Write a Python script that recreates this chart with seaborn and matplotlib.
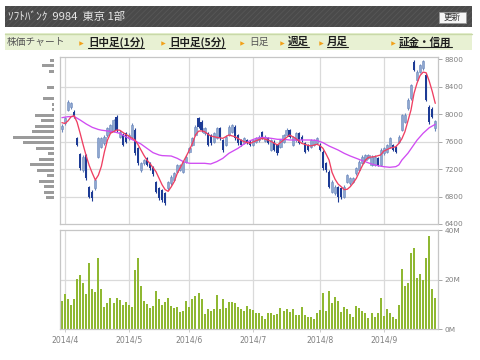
import numpy as np
import pandas as pd
import matplotlib
matplotlib.use("Agg")
import matplotlib.pyplot as plt
import seaborn as sns
from matplotlib.patches import Rectangle
from matplotlib.lines import Line2D

# ---------------- data ----------------
opens = [7780, 7865, 8060, 8100, 8035, 7645, 7420, 7185, 7405, 6945, 6870, 6920, 7380, 7525, 7575, 7695,
         7745, 7765, 7960, 7670, 7695, 7720, 7645, 7670, 7765, 7500, 7185, 7285, 7355, 7285, 7235, 7015,
         6920, 6895, 6845, 6920, 6990, 7040, 7160, 7185, 7160, 7305, 7450, 7550, 7695, 7935, 7890, 7720,
         7720, 7695, 7600, 7645, 7790, 7620, 7550, 7695, 7745, 7815, 7695, 7620, 7575, 7620, 7600, 7550,
         7600, 7620, 7745, 7610, 7645, 7475, 7600, 7550, 7525, 7600, 7695, 7765, 7550, 7620, 7720, 7670,
         7575, 7550, 7525, 7550, 7575, 7550, 7450, 7285, 7160, 6870, 6845, 6945, 6920, 6800, 7015, 6990,
         7015, 7135, 7185, 7285, 7330, 7355, 7260, 7260, 7355, 7260, 7430, 7450, 7525, 7550, 7525, 7600,
         7765, 7890, 8085, 8230, 8750, 8495, 8615, 8665, 8565, 8105, 8080, 7790]
closes = [7830, 7935, 8180, 8155, 7960, 7550, 7210, 7380, 7065, 6800, 6775, 7040, 7645, 7645, 7660, 7790,
          7840, 7915, 7765, 7745, 7550, 7600, 7695, 7840, 7430, 7285, 7285, 7330, 7260, 7210, 7130, 6870,
          6775, 6750, 6700, 7015, 7090, 7135, 7260, 7260, 7305, 7380, 7500, 7645, 7815, 7815, 7765, 7790,
          7550, 7575, 7720, 7790, 7645, 7475, 7670, 7815, 7840, 7645, 7575, 7550, 7645, 7575, 7550, 7620,
          7645, 7670, 7645, 7670, 7575, 7620, 7475, 7430, 7620, 7695, 7765, 7670, 7660, 7720, 7575, 7620,
          7450, 7475, 7620, 7620, 7645, 7475, 7210, 7185, 6945, 7015, 6945, 6800, 6800, 6945, 7110, 7065,
          7065, 7210, 7305, 7380, 7405, 7405, 7380, 7380, 7260, 7475, 7500, 7550, 7645, 7475, 7450, 7670,
          7985, 7985, 8205, 8420, 8640, 8615, 8710, 8770, 8205, 7890, 7960, 7900]
highs = [7860, 7960, 8200, 8180, 8060, 7670, 7440, 7400, 7420, 6960, 6890, 7060, 7670, 7670, 7690, 7810,
         7860, 7930, 7990, 7770, 7720, 7740, 7720, 7870, 7790, 7520, 7300, 7350, 7380, 7300, 7250, 7030,
         6940, 6910, 6860, 7030, 7110, 7160, 7280, 7280, 7320, 7400, 7520, 7670, 7840, 7960, 7910, 7810,
         7740, 7710, 7740, 7810, 7810, 7640, 7690, 7840, 7860, 7840, 7710, 7640, 7670, 7640, 7620, 7640,
         7660, 7690, 7760, 7690, 7660, 7640, 7620, 7570, 7640, 7710, 7790, 7780, 7680, 7740, 7740, 7690,
         7590, 7570, 7640, 7640, 7670, 7580, 7470, 7300, 7180, 7040, 6970, 6960, 6940, 6970, 7130, 7090,
         7080, 7230, 7330, 7400, 7420, 7420, 7400, 7400, 7370, 7500, 7520, 7570, 7670, 7570, 7540, 7690,
         8000, 8010, 8230, 8440, 8780, 8640, 8730, 8790, 8600, 8130, 8100, 7920]
lows = [7740, 7840, 8040, 8080, 7940, 7530, 7190, 7160, 7040, 6780, 6740, 6900, 7360, 7500, 7550, 7670,
        7720, 7740, 7740, 7650, 7530, 7580, 7620, 7650, 7400, 7260, 7160, 7260, 7240, 7190, 7100, 6850,
        6750, 6720, 6680, 6900, 6970, 7020, 7140, 7170, 7140, 7290, 7430, 7530, 7680, 7800, 7740, 7700,
        7530, 7550, 7580, 7630, 7620, 7450, 7530, 7680, 7720, 7620, 7550, 7530, 7560, 7560, 7530, 7530,
        7580, 7600, 7630, 7590, 7560, 7460, 7460, 7410, 7510, 7580, 7680, 7650, 7530, 7600, 7560, 7600,
        7430, 7460, 7510, 7530, 7560, 7460, 7190, 7160, 6920, 6850, 6820, 6720, 6770, 6780, 7000, 6970,
        7000, 7120, 7170, 7270, 7310, 7340, 7240, 7240, 7240, 7240, 7410, 7430, 7510, 7460, 7430, 7580,
        7750, 7870, 8060, 8210, 8620, 8480, 8600, 8640, 8190, 7860, 7940, 7760]
volumes_m = [11.2,
             14.3, 12.2, 9.7, 12.0, 20.5, 21.9, 18.6, 14.4, 26.8, 16.2, 15.1, 29.0, 16.2, 9.0, 10.5, 12.5,
             10.5, 12.5, 11.7, 9.9, 10.9,
             9.7, 9.0, 23.8, 29.0, 17.5, 11.4, 10.2, 8.6, 9.2, 15.6, 12.0, 9.9, 10.9, 12.5, 9.4, 8.6, 8.8,
             6.9, 7.2, 11.2,
             8.8, 12.0, 13.3, 14.7, 12.0, 6.0, 8.3, 7.5, 8.2, 13.9, 8.0, 12.0, 8.6, 11.0, 11.0, 10.5, 8.8,
             8.0, 7.2, 9.2, 8.0,
             7.8, 6.4, 6.4, 5.2, 4.1, 6.4, 6.5, 5.6, 6.1, 8.6, 7.3, 8.2, 6.9, 8.2, 5.7, 5.6, 8.8, 5.6, 4.9,
             4.8, 4.2, 6.5,
             7.8, 14.7, 7.2, 15.6, 10.7, 13.1, 11.2, 6.9, 8.8, 8.3, 6.1, 4.8, 9.4, 8.6, 7.2, 6.5, 4.5, 6.4,
             5.0, 6.5, 12.5,
             5.3, 8.2, 6.4, 5.0, 4.1, 9.7, 24.2, 17.5, 18.6, 31.0, 32.9, 20.8, 22.4, 19.9, 28.8, 37.8, 16.2,
             12.6]

ma_short_day = [0, 1, 2, 3, 4, 5, 6, 7, 8, 9, 10, 11, 12, 13, 14, 15, 16, 18, 19, 20, 21, 22, 23, 24, 25,
                26, 27, 28, 29, 30, 31, 32, 33, 34, 35, 36, 37, 38, 39, 40, 41, 42, 43, 44, 45, 46, 47, 48,
                49, 51, 53, 55, 57, 59, 60, 62, 64, 66, 68, 69, 71, 73, 75, 77, 79, 81, 82, 84, 85, 86, 87,
                88, 89, 90, 91, 92, 93, 94, 95, 96, 97, 98, 99, 100, 101, 103, 105, 106, 108, 110, 111, 112,
                113, 114, 115, 116, 117, 118, 119, 120, 121, 122, 123]
ma_short_val = [7874, 7862, 7900, 7960, 7975, 7880, 7720, 7550, 7390, 7250, 7140, 7040, 7110, 7240, 7450,
                7620, 7720, 7767, 7765, 7735, 7705, 7680, 7650, 7625, 7560, 7480, 7400, 7330, 7280, 7220,
                7160, 7065, 6970, 6900, 6875, 6940, 7016, 7137, 7220, 7307, 7390, 7476, 7573, 7695, 7750,
                7755, 7743, 7710, 7680, 7661, 7646, 7695, 7670, 7620, 7598, 7573, 7612, 7646, 7620, 7598,
                7549, 7622, 7695, 7646, 7573, 7545, 7535, 7560, 7540, 7501, 7420, 7331, 7150, 7050, 6980,
                6943, 6900, 6905, 6943, 7000, 7065, 7160, 7250, 7331, 7370, 7380, 7404, 7460, 7501, 7525,
                7573, 7640, 7743, 7900, 8058, 8300, 8450, 8560, 8610, 8600, 8480, 8330, 8155]
ma_long_day = [0, 2, 4, 6, 8, 10, 12, 13, 15, 17, 19, 21, 24, 26, 28, 30, 32, 33, 36, 38, 40, 42, 44, 47,
               49, 51, 53, 55, 58, 60, 62, 64, 66, 69, 71, 73, 75, 77, 80, 82, 84, 86, 88, 91, 93, 95, 97,
               99, 102, 104, 106, 108, 110, 111, 112, 114, 117, 119, 121, 123]
ma_long_val = [7947, 7961, 7965, 7913, 7855, 7806, 7775, 7765, 7753, 7743, 7719, 7670, 7610, 7565, 7501,
               7438, 7404, 7395, 7389, 7355, 7307, 7283, 7283, 7283, 7273, 7307, 7355, 7428, 7501, 7564,
               7612, 7646, 7661, 7646, 7632, 7632, 7622, 7622, 7622, 7622, 7615, 7583, 7535, 7476, 7428,
               7389, 7355, 7321, 7273, 7249, 7234, 7225, 7234, 7260, 7330, 7430, 7620, 7720, 7800, 7850]

profile_price = [8780, 8700, 8620, 8540, 8460, 8380, 8300, 8220, 8140, 8060, 7980, 7900, 7820, 7740, 7660,
                 7580, 7500, 7420, 7340, 7260, 7180, 7100, 7020, 6940, 6860, 6780]
profile_volume = [4.3, 12.7, 5.0, 0, 0, 7.0, 0, 11.0, 2.7, 2.7, 19.3, 13.7, 19.3, 22.0, 41.0, 31.7, 18.3,
                  6.0, 15.3, 24.3, 17.7, 7.0, 15.3, 10.0, 10.3, 8.3]

price_ticks = [6400, 6800, 7200, 7600, 8000, 8400, 8800]
vol_ticks = [0, 20, 40]
vol_tick_labels = ["0M", "20M", "40M"]
month_days = [1, 22, 42, 63, 85, 106]
month_labels = ["2014/4", "2014/5", "2014/6", "2014/7", "2014/8", "2014/9"]

header_title = "ｿﾌﾄﾊﾞﾝｸ  9984  東京 1部"
update_label = "更新"
menu_items = [("株価チャート", False, None), ("日中足(1分)", True, True), ("日中足(5分)", True, True),
              ("日足", True, False), ("週足", True, True), ("月足", True, True), ("証金・信用", True, True)]

# ---------------- style ----------------
sns.set_theme(style="white")
plt.rcParams["font.family"] = ["Noto Sans CJK JP", "DejaVu Sans"]
plt.rcParams["hatch.linewidth"] = 0.6

W, H = 480, 360
fig = plt.figure(figsize=(W / 100, H / 100), dpi=100)
fig.patch.set_facecolor("white")


def fx(px):
    return px / W


def fy(py):
    return 1 - py / H


GRID = "#dadada"
SPINE = "#c6c6c6"
TICKC = "#808080"
UP_FACE = "#8fa7d0"
UP_EDGE = "#6d89bd"
DOWN = "#1d3b95"
RED = "#ef3f62"
PURPLE = "#d04cf2"
VOL = "#8fb832"

# header bar
fig.add_artist(Rectangle((fx(5), fy(26.7)), fx(467), 20.7 / H, transform=fig.transFigure,
                         facecolor="#4a4a4a", edgecolor="#575757", lw=0, hatch="//////"))
fig.text(fx(7.5), fy(16.8), header_title, color="#e6e6e6", fontsize=8.1, va="center", ha="left")
fig.add_artist(Rectangle((fx(439), fy(22.5)), fx(27), 10.5 / H, transform=fig.transFigure,
                         facecolor="#f6f6f6", edgecolor="#9a9a9a", lw=0.6))
fig.text(fx(452.5), fy(17.4), update_label, color="#333333", fontsize=6.2, va="center", ha="center")

# menu band
fig.add_artist(Rectangle((fx(5), fy(50)), fx(467), 16.7 / H, transform=fig.transFigure,
                         facecolor="#e8f1d3", edgecolor="none"))
fig.add_artist(Line2D([fx(5), fx(472)], [fy(33.6), fy(33.6)], transform=fig.transFigure,
                      color="#c9d9a9", lw=1.0))
menu_x = [7, 88, 169, 249, 288, 327, 399]
arrow_x = [None, 81, 163, 242, 282, 321, 393]
menu_texts = []
for (label, has_arrow, bold), mx, ax_ in zip(menu_items, menu_x, arrow_x):
    if has_arrow:
        fig.add_artist(Line2D([fx(ax_)], [fy(42.5)], transform=fig.transFigure, marker=">",
                              markersize=3.2, color="#f2a11a", markeredgewidth=0, linestyle="none"))
    if bold:
        t = fig.text(fx(mx), fy(42.3), label, color="#1e1e1e", fontsize=7.6, fontweight="bold",
                     va="center", ha="left")
        menu_texts.append(t)
    else:
        fig.text(fx(mx), fy(42.3), label, color="#555555", fontsize=7.0, va="center", ha="left")

# ---------------- axes ----------------
L, R = 59.5, 438
axp = fig.add_axes([fx(L), fy(224), fx(R - L), (224 - 57.3) / H])
axv = fig.add_axes([fx(L), fy(329), fx(R - L), (329 - 230) / H])
axh = fig.add_axes([fx(9), fy(224), fx(45.3), (224 - 57.3) / H])

idx = np.arange(len(closes))
o = np.array(opens, float)
c = np.array(closes, float)
hi = np.array(highs, float)
lo = np.array(lows, float)
up = c >= o

# price panel
for d in month_days:
    axp.axvline(d, color=GRID, lw=0.9, zorder=0)
for p in price_ticks[1:-1]:
    axp.axhline(p, color=GRID, lw=0.9, zorder=0)

axp.vlines(idx[up], lo[up], hi[up], color=UP_EDGE, lw=0.8, zorder=2)
axp.vlines(idx[~up], lo[~up], hi[~up], color=DOWN, lw=0.8, zorder=2)
axp.bar(idx[up], np.maximum(c[up] - o[up], 8), bottom=o[up], width=0.72, color=UP_FACE,
        edgecolor=UP_EDGE, linewidth=0.4, zorder=3)
axp.bar(idx[~up], np.maximum(o[~up] - c[~up], 8), bottom=c[~up], width=0.72, color=DOWN,
        linewidth=0, zorder=3)

ma_s = pd.DataFrame({"day": ma_short_day, "value": ma_short_val})
ma_l = pd.DataFrame({"day": ma_long_day, "value": ma_long_val})
sns.lineplot(data=ma_l, x="day", y="value", ax=axp, color=PURPLE, lw=0.95, zorder=4)
sns.lineplot(data=ma_s, x="day", y="value", ax=axp, color=RED, lw=0.95, zorder=5)

xlim = (-0.8, 123.9)
axp.set_xlim(*xlim)
axp.set_ylim(6400, 8825)
axp.set_xlabel("")
axp.set_ylabel("")
axp.set_xticks(month_days)
axp.set_xticklabels([])
axp.tick_params(axis="x", length=0)
axp.yaxis.tick_right()
axp.set_yticks(price_ticks)
axp.set_yticklabels([str(p) for p in price_ticks], family="DejaVu Sans")
axp.tick_params(axis="y", length=3.2, width=0.7, color="#a8a8a8", labelsize=5.3,
                labelcolor=TICKC, pad=1.5, right=True, left=False)
for s in axp.spines.values():
    s.set_color(SPINE)
    s.set_linewidth(0.9)

# volume panel
for d in month_days:
    axv.axvline(d, color=GRID, lw=0.9, zorder=0)
axv.axhline(20, color=GRID, lw=0.9, zorder=0)
vol_df = pd.DataFrame({"day": idx, "vol": volumes_m})
sns.barplot(data=vol_df, x="day", y="vol", ax=axv, native_scale=True, width=0.66,
            color=VOL, saturation=1, errorbar=None, linewidth=0, zorder=2)
axv.set_xlim(*xlim)
axv.set_ylim(0, 40.2)
axv.set_xlabel("")
axv.set_ylabel("")
axv.yaxis.tick_right()
axv.set_yticks(vol_ticks)
axv.set_yticklabels(vol_tick_labels, family="DejaVu Sans")
axv.tick_params(axis="y", length=3.2, width=0.7, color="#a8a8a8", labelsize=5.3,
                labelcolor=TICKC, pad=1.5, right=True, left=False)
axv.set_xticks(month_days)
axv.set_xticklabels(month_labels, family="DejaVu Sans")
axv.tick_params(axis="x", length=2.5, width=0.7, color="#cccccc", labelsize=5.6,
                labelcolor=TICKC, pad=2.5, bottom=True)
for s in axv.spines.values():
    s.set_color(SPINE)
    s.set_linewidth(0.9)

# volume-at-price profile
axh.barh(profile_price, profile_volume, height=46, color="#9b9b9b", linewidth=0)
axh.set_xlim(45.3, 0)
axh.set_ylim(6400, 8825)
axh.axis("off")

# underline the link items
fig.canvas.draw()
rend = fig.canvas.get_renderer()
for t in menu_texts:
    bb = t.get_window_extent(rend)
    y = bb.y0 + 0.3
    fig.add_artist(Line2D([bb.x0 / W, bb.x1 / W], [y / H, y / H], transform=fig.transFigure,
                          color="#1e1e1e", lw=0.8))

fig.savefig("out.png", dpi=100, facecolor="white")
